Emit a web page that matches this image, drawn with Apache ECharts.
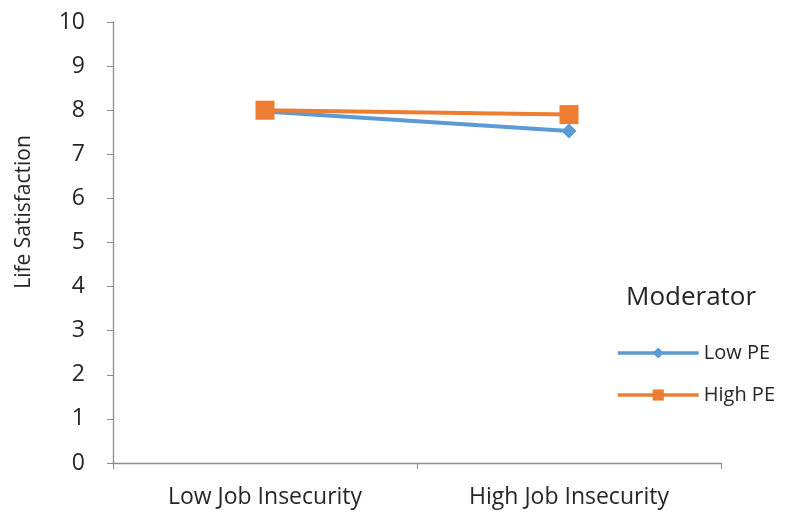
<!DOCTYPE html>
<html>
<head>
<meta charset="utf-8">
<script src="https://cdn.jsdelivr.net/npm/echarts@6/dist/echarts.min.js"></script>
<style>
  html, body { margin: 0; padding: 0; background: #fff; }
  #chart { width: 793px; height: 517px; }
</style>
</head>
<body>
<div id="chart"></div>
<script>
// Life satisfaction by job insecurity, moderated by PE
var categories = ['Low Job Insecurity', 'High Job Insecurity'];
var lowPE = [7.97, 7.53];
var highPE = [8.0, 7.9];
var yTicks = [0, 1, 2, 3, 4, 5, 6, 7, 8, 9, 10];
var yTitle = 'Life Satisfaction';

var font = 'Open Sans, Liberation Sans, sans-serif';
var textColor = '#262626';
var axisColor = '#8c8c8c';
var chart = echarts.init(document.getElementById('chart'));
chart.setOption({
  animation: false,
  title: {
    text: 'Moderator',
    left: 621,
    top: 280,
    textStyle: { fontFamily: font, fontSize: 26, fontWeight: 'normal', color: textColor }
  },
  legend: {
    orient: 'vertical',
    left: 611,
    top: 338,
    itemWidth: 81,
    itemHeight: 14,
    itemGap: 22,
    lineStyle: { width: 3.5 },
    textStyle: { fontFamily: font, fontSize: 20, color: textColor },
    data: ['Low PE', 'High PE']
  },
  grid: { left: 113, right: 72, top: 22, bottom: 54 },
  graphic: [{
    type: 'text',
    x: 24,
    y: 212,
    rotation: Math.PI / 2,
    style: {
      text: yTitle,
      fontFamily: font,
      fontSize: 21,
      fill: textColor,
      align: 'center',
      verticalAlign: 'middle'
    }
  }],
  xAxis: {
    type: 'category',
    data: categories,
    boundaryGap: true,
    axisLine: { lineStyle: { color: axisColor, width: 1.3 } },
    axisTick: { show: true, length: 6, lineStyle: { color: axisColor } },
    axisLabel: { fontFamily: font, fontSize: 23, color: textColor, margin: 23 }
  },
  yAxis: {
    type: 'value',
    min: yTicks[0],
    max: yTicks[yTicks.length - 1],
    interval: 1,
    axisLine: { show: true, lineStyle: { color: axisColor, width: 1.3 } },
    axisTick: { show: true, length: 6, inside: false, lineStyle: { color: axisColor } },
    splitLine: { show: false },
    axisLabel: { fontFamily: font, fontSize: 23, color: textColor, margin: 28 }
  },
  series: [
    {
      name: 'Low PE',
      type: 'line',
      data: lowPE,
      symbol: 'diamond',
      symbolSize: 15,
      lineStyle: { color: '#5B9BD5', width: 4 },
      itemStyle: { color: '#5B9BD5' }
    },
    {
      name: 'High PE',
      type: 'line',
      data: highPE,
      symbol: 'rect',
      symbolSize: 19,
      lineStyle: { color: '#ED7D31', width: 4 },
      itemStyle: { color: '#ED7D31' }
    }
  ]
});
</script>
</body>
</html>
